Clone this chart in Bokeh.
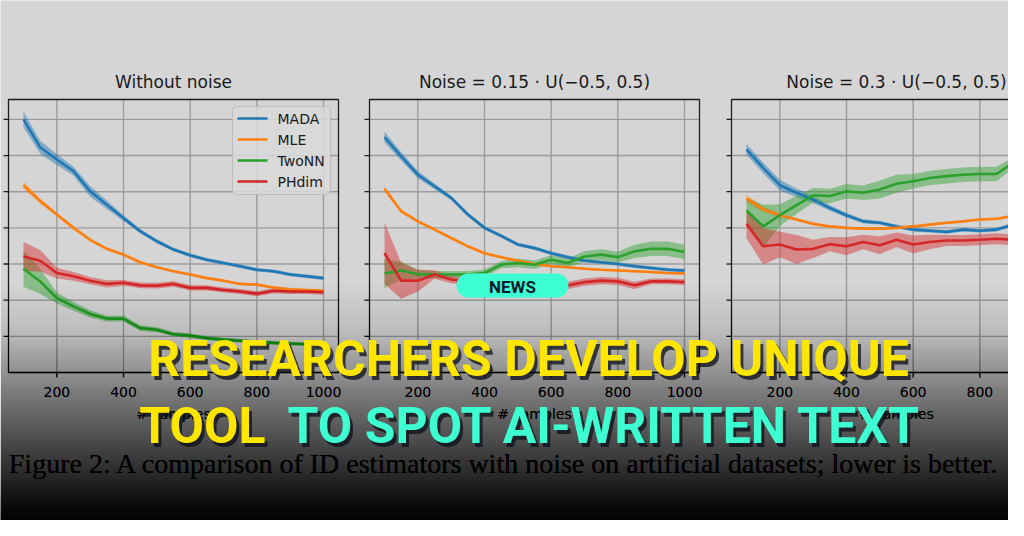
import numpy as np
from bokeh.plotting import figure
from bokeh.models import Range1d
from bokeh.core.properties import value
from bokeh.embed import file_html
from bokeh.resources import INLINE

# ---------------- data ----------------
samples = [100, 150, 200, 250, 300, 350, 400, 450, 500, 550,
           600, 650, 700, 750, 800, 850, 900, 950, 1000]
series = ["MADA", "MLE", "TwoNN", "PHdim"]
colors = ["#1f77b4", "#ff7f0e", "#2ca02c", "#d62728"]
titles = ["Without noise", "Noise = 0.15 · U(−0.5, 0.5)", "Noise = 0.3 · U(−0.5, 0.5)"]
x_ticks = [200, 400, 600, 800, 1000]
x_tick_labels = ["200", "400", "600", "800", "1000"]
y_ticks = [1, 2, 3, 4, 5, 6, 7]
x_label = "# samples"
caption = "Figure 2: A comparison of ID estimators with noise on artificial datasets; lower is better."
headline_1 = "RESEARCHERS DEVELOP UNIQUE"
headline_2a = "TOOL"
headline_2b = "TO SPOT AI-WRITTEN TEXT"
badge_text = "NEWS"

# panel 1: without noise
mada_1 = [7.00, 6.23, 5.89, 5.57, 5.01, 4.64, 4.27, 3.91, 3.63, 3.40, 3.24, 3.12, 3.03, 2.94, 2.84, 2.80, 2.71, 2.66, 2.61]
mle_1 = [5.18, 4.74, 4.37, 4.00, 3.67, 3.42, 3.26, 3.05, 2.91, 2.80, 2.71, 2.61, 2.54, 2.45, 2.43, 2.35, 2.30, 2.28, 2.26]
twonn_1 = [2.87, 2.52, 2.06, 1.83, 1.62, 1.49, 1.49, 1.23, 1.18, 1.06, 1.02, 0.95, 0.91, 0.88, 0.85, 0.82, 0.80, 0.78, 0.77]
phdim_1 = [3.21, 3.09, 2.75, 2.66, 2.54, 2.45, 2.48, 2.41, 2.40, 2.45, 2.34, 2.34, 2.28, 2.24, 2.18, 2.26, 2.24, 2.24, 2.22]
# panel 2: noise 0.15
mada_2 = [6.51, 5.98, 5.47, 5.15, 4.83, 4.37, 4.00, 3.78, 3.54, 3.44, 3.30, 3.19, 3.09, 3.05, 3.00, 2.94, 2.89, 2.84, 2.82]
mle_2 = [5.08, 4.46, 4.18, 3.95, 3.72, 3.49, 3.30, 3.19, 3.09, 3.00, 2.94, 2.91, 2.87, 2.84, 2.82, 2.80, 2.78, 2.75, 2.74]
twonn_2 = [2.74, 2.82, 2.72, 2.71, 2.71, 2.71, 2.75, 2.98, 3.03, 2.98, 3.12, 3.03, 3.21, 3.26, 3.19, 3.35, 3.42, 3.42, 3.33]
phdim_2 = [3.30, 2.54, 2.54, 2.71, 2.57, 2.52, 2.48, 2.48, 2.50, 2.52, 2.48, 2.41, 2.50, 2.54, 2.52, 2.41, 2.52, 2.52, 2.50]
# panel 3: noise 0.3
mada_3 = [6.17, 5.66, 5.18, 4.97, 4.78, 4.55, 4.35, 4.18, 4.14, 4.04, 3.95, 3.92, 3.89, 3.95, 3.92, 3.95, 4.09, 4.08, 4.05]
mle_3 = [4.81, 4.51, 4.35, 4.23, 4.11, 4.04, 4.00, 3.98, 3.98, 4.00, 4.04, 4.09, 4.14, 4.18, 4.23, 4.25, 4.33, 4.40, 4.45]
twonn_3 = [4.48, 4.04, 4.35, 4.63, 4.90, 4.88, 5.01, 4.97, 5.06, 5.22, 5.29, 5.38, 5.43, 5.47, 5.49, 5.49, 5.80, 5.80, 5.78]
phdim_3 = [4.11, 3.49, 3.54, 3.40, 3.42, 3.55, 3.49, 3.61, 3.52, 3.67, 3.54, 3.61, 3.65, 3.65, 3.67, 3.70, 3.67, 3.68, 3.68]

# spread (half-width of shaded bands)
sd_mada_1 = [0.22, 0.18, 0.15, 0.12, 0.15, 0.12, 0.08, 0.06, 0.06, 0.05, 0.05, 0.05, 0.05, 0.05, 0.05, 0.05, 0.05, 0.05, 0.05]
sd_mle_1 = [0.10, 0.07, 0.05, 0.05, 0.04, 0.04, 0.04, 0.04, 0.03, 0.03, 0.03, 0.03, 0.03, 0.03, 0.03, 0.03, 0.03, 0.03, 0.03]
sd_twonn_1 = [0.50, 0.35, 0.15, 0.12, 0.10, 0.08, 0.08, 0.08, 0.07, 0.06, 0.06, 0.05, 0.05, 0.05, 0.05, 0.05, 0.05, 0.05, 0.05]
sd_phdim_1 = [0.40, 0.30, 0.15, 0.12, 0.10, 0.10, 0.08, 0.08, 0.08, 0.08, 0.07, 0.07, 0.07, 0.07, 0.07, 0.07, 0.07, 0.07, 0.07]
sd_mada_2 = [0.15, 0.12, 0.10, 0.08, 0.06, 0.06, 0.05, 0.05, 0.05, 0.05, 0.05, 0.05, 0.05, 0.05, 0.05, 0.05, 0.05, 0.05, 0.05]
sd_mle_2 = [0.08, 0.05, 0.04, 0.03, 0.03, 0.03, 0.03, 0.03, 0.03, 0.03, 0.03, 0.03, 0.03, 0.03, 0.03, 0.03, 0.03, 0.03, 0.03]
sd_twonn_2 = [0.40, 0.25, 0.12, 0.10, 0.10, 0.10, 0.10, 0.10, 0.12, 0.12, 0.12, 0.12, 0.15, 0.15, 0.15, 0.18, 0.20, 0.20, 0.20]
sd_phdim_2 = [0.85, 0.50, 0.30, 0.12, 0.10, 0.10, 0.10, 0.10, 0.10, 0.10, 0.10, 0.10, 0.10, 0.10, 0.10, 0.10, 0.08, 0.08, 0.08]
sd_mada_3 = [0.15, 0.15, 0.15, 0.12, 0.10, 0.08, 0.06, 0.06, 0.05, 0.05, 0.05, 0.05, 0.05, 0.05, 0.05, 0.05, 0.05, 0.05, 0.05]
sd_mle_3 = [0.10, 0.08, 0.05, 0.04, 0.04, 0.03, 0.03, 0.03, 0.03, 0.03, 0.03, 0.03, 0.03, 0.03, 0.03, 0.03, 0.03, 0.03, 0.03]
sd_twonn_3 = [0.35, 0.60, 0.30, 0.25, 0.20, 0.20, 0.20, 0.20, 0.25, 0.25, 0.20, 0.20, 0.20, 0.20, 0.20, 0.20, 0.15, 0.15, 0.15]
sd_phdim_3 = [0.40, 0.50, 0.35, 0.40, 0.25, 0.20, 0.25, 0.20, 0.25, 0.20, 0.25, 0.20, 0.15, 0.15, 0.15, 0.15, 0.15, 0.15, 0.15]

panel_means = [
    [mada_1, mle_1, twonn_1, phdim_1],
    [mada_2, mle_2, twonn_2, phdim_2],
    [mada_3, mle_3, twonn_3, phdim_3],
]
panel_sds = [
    [sd_mada_1, sd_mle_1, sd_twonn_1, sd_phdim_1],
    [sd_mada_2, sd_mle_2, sd_twonn_2, sd_phdim_2],
    [sd_mada_3, sd_mle_3, sd_twonn_3, sd_phdim_3],
]

# ---------------- layout (page pixels) ----------------
W, H = 1008, 520
BG = "#d5d5d5"
panel_left = [8, 369, 731]
panel_w = 330
panel_top, panel_bottom = 99, 372
x_lo, x_hi = 55, 1045
y_lo, y_hi = 0.0, 7.55
px_x = panel_w / (x_hi - x_lo)
px_y = (panel_bottom - panel_top) / (y_hi - y_lo)

p = figure(width=W, height=H, x_range=Range1d(0, W), y_range=Range1d(H, 0),
           output_backend="svg", toolbar_location=None, min_border=0,
           x_axis_location=None, y_axis_location=None,
           background_fill_color=BG, border_fill_color=BG, outline_line_color=None)
p.grid.visible = False

FONT = value("DejaVu Sans")
GRID = "#9c9c9c"
SPINE = "#1c1c1c"

for i in range(3):
    L = panel_left[i]
    sub = p.subplot(x_source=Range1d(x_lo, x_hi), y_source=Range1d(y_lo, y_hi),
                    x_target=Range1d(L, L + panel_w), y_target=Range1d(panel_bottom, panel_top))
    # grid
    sub.segment(x0=x_ticks, y0=y_lo, x1=x_ticks, y1=y_hi, line_color=GRID, line_width=1.4)
    sub.segment(x0=x_lo, y0=y_ticks, x1=x_hi, y1=y_ticks, line_color=GRID, line_width=1.4)
    # bands + lines
    for name, col, m, s in zip(series, colors, panel_means[i], panel_sds[i]):
        m = np.array(m); s = np.array(s)
        sub.varea(x=samples, y1=m - s, y2=m + s, fill_color=col, fill_alpha=0.45)
    for name, col, m in zip(series, colors, panel_means[i]):
        sub.line(x=samples, y=m, line_color=col, line_width=2.6)
    # spines and ticks
    sub.quad(left=x_lo, right=x_hi, bottom=y_lo, top=y_hi, fill_color=None,
             line_color=SPINE, line_width=1.3)
    sub.segment(x0=x_lo - 5 / px_x, y0=y_ticks, x1=x_lo, y1=y_ticks, line_color=SPINE, line_width=1.3)
    sub.segment(x0=x_ticks, y0=y_lo, x1=x_ticks, y1=y_lo - 5 / px_y, line_color=SPINE, line_width=1.3)
    # tick labels (only those that fall inside the picture), axis label, title
    vis = [k for k, t in enumerate(x_ticks) if L + (t - x_lo) * px_x + 20 < W]
    sub.text(x=[x_ticks[k] for k in vis], y=[y_lo - 19 / px_y] * len(vis),
             text=[x_tick_labels[k] for k in vis],
             text_align="center", text_baseline="middle", text_font=FONT,
             text_font_size="14px", text_color="#1a1a1a")
    sub.text(x=[(x_lo + x_hi) / 2], y=[y_lo - 41 / px_y], text=[x_label],
             text_align="center", text_baseline="middle", text_font=FONT,
             text_font_size="14px", text_color="#1a1a1a")
    sub.text(x=[(x_lo + x_hi) / 2], y=[y_hi + 18 / px_y], text=[titles[i]],
             text_align="center", text_baseline="middle", text_font=FONT,
             text_font_size="17px", text_color="#1a1a1a")

# legend (first panel)
leg_l, leg_r, leg_t, leg_b = 232, 330, 106, 194
p.quad(left=leg_l, right=leg_r, top=leg_t, bottom=leg_b, fill_color="#d9d9d9", fill_alpha=0.85,
       line_color="#bdbdbd", line_width=1, border_radius=4)
leg_y = [118, 139, 160, 181]
p.segment(x0=237, x1=267, y0=leg_y, y1=leg_y, line_color=colors, line_width=2.6)
p.text(x=[277] * 4, y=leg_y, text=series, text_align="left", text_baseline="middle",
       text_font=FONT, text_font_size="14px", text_color="#1a1a1a")

# caption
p.text(x=[504], y=[463], text=[caption], text_align="center", text_baseline="middle",
       text_font=value("Liberation Serif"), text_font_size="28px", text_color="#0a0a0a")

# dark gradient overlay at the bottom
stop_y = [280, 330, 360, 390, 420, 450, 470, 490, 510, 520]
stop_b = [213, 195, 168, 138, 108, 82, 60, 36, 15, 8]
ys = np.arange(280, 520, 2)
A = 1 - np.interp(ys, stop_y, stop_b) / 213.0
prev = np.concatenate([[0.0], A[:-1]])
a_inc = 1 - (1 - A) / (1 - prev)
p.quad(left=0, right=W, top=ys, bottom=H, fill_color="black",
       fill_alpha=a_inc, line_color=None)

HFONT = value("Roboto")

# news badge
p.rect(x=512, y=285, width=112, height=24, fill_color="#3cffd2", line_color=None, border_radius=12)
p.text(x=[512], y=[286], text=[badge_text], text_align="center", text_baseline="middle",
       text_font=HFONT, text_font_style="bold",
       text_font_size="17px", text_color="#0d1b2a")

# headline with shadow
HSIZE = "50px"
YEL, CYA = "#ffe600", "#3dffd2"
for dx, dy, c1, c2, al in [(3, 4, "#0b1018", "#0b1018", 0.75), (0, 0, YEL, CYA, 1.0)]:
    p.text(x=[528 + dx], y=[358 + dy], text=[headline_1], text_align="center",
           text_baseline="middle", text_font=HFONT, text_font_style="bold",
           text_font_size=HSIZE, text_color=c1, text_alpha=al)
    p.text(x=[265 + dx], y=[425 + dy], text=[headline_2a], text_align="right",
           text_baseline="middle", text_font=HFONT, text_font_style="bold",
           text_font_size=HSIZE, text_color=c1, text_alpha=al)
    p.text(x=[287 + dx], y=[425 + dy], text=[headline_2b], text_align="left",
           text_baseline="middle", text_font=HFONT, text_font_style="bold",
           text_font_size=HSIZE, text_color=c2, text_alpha=al)

open("out.html", "w").write(file_html(p, INLINE))
